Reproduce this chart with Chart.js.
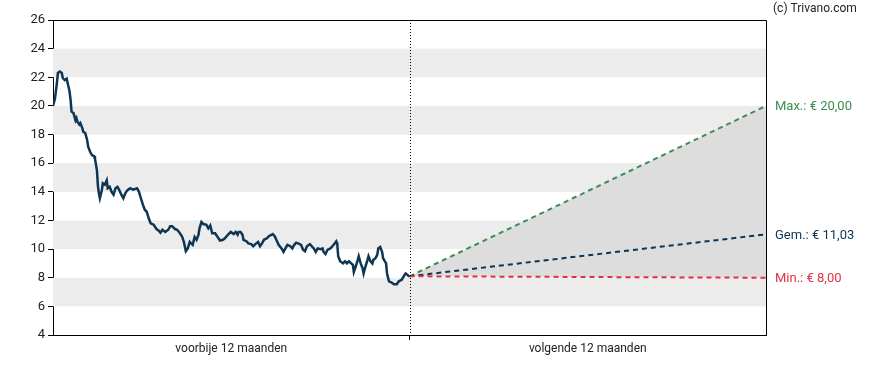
<!DOCTYPE html>
<html>
<head>
<meta charset="utf-8">
<script src="https://cdn.jsdelivr.net/npm/chart.js@4"></script>
<style>
  body { margin: 0; background: #fff; }
  #wrap { width: 888px; height: 370px; position: relative; }
</style>
</head>
<body>
<div id="wrap"><canvas id="chart"></canvas></div>
<script>
// past 12 months: day index and closing price
var pastDays = [0,2,4,5,7,9,10,12,14,15,17,18,19,21,23,24,25,27,28,30,31,33,35,36,38,40,42,43,45,46,47,48,50,51,53,55,56,58,60,62,64,66,68,70,72,74,76,79,82,86,88,90,92,94,96,98,100,103,106,108,110,112,115,118,120,122,125,127,129,132,134,136,138,140,143,145,147,149,150,152,154,157,159,161,163,166,168,171,174,176,179,182,185,187,189,190,192,194,195,198,200,203,205,208,210,212,214,216,219,221,225,227,229,231,234,236,238,240,243,245,247,249,251,254,256,258,260,263,267,269,271,274,276,277,279,281,284,286,288,290,291,292,294,297,299,301,303,307,308,310,312,313,315,317,318,320,322,323,325,327,328,330,332,333,335,337,338,341,342,344,347,349,352,354,357,359,361,363,364,365];
var pastPrices = [20.0,20.5,21.6,22.3,22.4,22.3,21.95,21.8,21.9,21.6,21.0,20.4,19.6,19.5,19.0,19.15,18.9,18.7,18.8,18.45,18.2,18.1,17.6,17.15,16.8,16.55,16.5,16.3,15.5,14.4,13.9,13.55,14.1,14.6,14.5,14.8,14.25,14.35,14.0,13.8,14.25,14.35,14.1,13.8,13.55,13.9,14.1,14.25,14.15,14.25,14.0,13.55,13.1,12.75,12.6,12.15,11.8,11.7,11.4,11.3,11.15,11.35,11.2,11.35,11.6,11.6,11.4,11.35,11.2,10.9,10.5,9.85,10.05,10.5,10.3,10.85,10.65,11.0,11.45,11.9,11.75,11.7,11.45,11.65,11.1,11.1,10.9,10.6,10.65,10.75,11.0,11.2,11.05,11.2,11.0,11.2,11.2,11.0,10.65,10.55,10.4,10.35,10.2,10.4,10.5,10.2,10.4,10.65,10.75,10.9,11.05,10.9,10.6,10.3,10.05,9.8,10.05,10.3,10.2,10.05,10.3,10.45,10.4,10.3,9.95,9.85,10.2,10.35,10.05,9.8,10.05,10.0,10.05,9.8,9.65,9.95,10.05,10.2,10.35,10.55,10.4,9.5,9.15,9.0,9.15,9.0,9.15,8.9,8.4,8.8,9.25,9.5,9.0,8.65,8.3,8.8,9.25,9.5,9.15,9.0,9.25,9.35,9.6,10.05,10.15,9.8,9.35,9.0,8.3,7.75,7.65,7.55,7.55,7.75,7.85,8.1,8.3,8.2,8.12,8.1];

// forecast for the next 12 months
var forecastDays = [365, 730];
var forecastStart = 8.1;
var forecastMax = 20.0;
var forecastAvg = 11.03;
var forecastMin = 8.0;
var forecastLabels = ['Max.: € 20,00', 'Gem.: € 11,03', 'Min.: € 8,00'];

var periodLabels = ['voorbije 12 maanden', 'volgende 12 maanden'];
var yTicksMin = 4, yTicksMax = 26, yStep = 2;
var bandStarts = [6, 10, 14, 18, 22];

var navy = '#0e3552';
var green = '#3b8d52';
var red = '#e32f43';

function pts(xs, ys) {
    return xs.map(function (x, i) { return { x: x, y: ys[i] }; });
}

var bandsPlugin = {
    id: 'bands',
    beforeDatasetsDraw: function (chart) {
        var ctx = chart.ctx, a = chart.chartArea, y = chart.scales.y;
        ctx.save();
        ctx.fillStyle = '#ececec';
        bandStarts.forEach(function (b) {
            var top = y.getPixelForValue(b + 2), bot = y.getPixelForValue(b);
            ctx.fillRect(a.left, top, a.right - a.left, bot - top);
        });
        ctx.restore();
    },
    afterDatasetsDraw: function (chart) {
        var ctx = chart.ctx, a = chart.chartArea, x = chart.scales.x, y = chart.scales.y;
        ctx.save();
        // frame
        ctx.strokeStyle = '#000';
        ctx.lineWidth = 1;
        ctx.beginPath();
        ctx.moveTo(a.left, a.top + 0.5);
        ctx.lineTo(a.right + 0.5, a.top + 0.5);
        ctx.lineTo(a.right + 0.5, a.bottom);
        ctx.stroke();
        // dotted divider between past and future
        var mx = Math.round(x.getPixelForValue(365)) + 0.5;
        ctx.setLineDash([1, 2]);
        ctx.beginPath();
        ctx.moveTo(mx, a.top);
        ctx.lineTo(mx, a.bottom);
        ctx.stroke();
        ctx.setLineDash([]);
        // forecast labels at right
        ctx.font = '13px Roboto';
        ctx.textBaseline = 'middle';
        ctx.textAlign = 'left';
        var vals = [forecastMax, forecastAvg, forecastMin];
        var cols = [green, navy, red];
        vals.forEach(function (v, i) {
            ctx.fillStyle = cols[i];
            ctx.fillText(forecastLabels[i], a.right + 9, y.getPixelForValue(v) + 1);
        });
        // copyright
        ctx.fillStyle = '#222';
        ctx.font = '12px Roboto';
        ctx.fillText('(c) Trivano.com', 773, 9);
        ctx.restore();
    }
};

var dash = [5, 4];

new Chart(document.getElementById('chart'), {
    type: 'line',
    data: {
        datasets: [
            {
                data: pts(pastDays, pastPrices),
                borderColor: navy,
                borderWidth: 2.5,
                pointRadius: 0,
                tension: 0,
                fill: false,
                order: 0
            },
            {
                data: pts(forecastDays, [forecastStart, forecastMax]),
                borderColor: green,
                borderWidth: 2,
                borderDash: dash,
                pointRadius: 0,
                fill: 3,
                backgroundColor: '#dddddd',
                order: 3
            },
            {
                data: pts(forecastDays, [forecastStart, forecastAvg]),
                borderColor: navy,
                borderWidth: 2,
                borderDash: dash,
                pointRadius: 0,
                fill: false,
                order: 2
            },
            {
                data: pts(forecastDays, [forecastStart, forecastMin]),
                borderColor: red,
                borderWidth: 2,
                borderDash: dash,
                pointRadius: 0,
                fill: false,
                order: 1
            }
        ]
    },
    options: {
        responsive: true,
        maintainAspectRatio: false,
        animation: false,
        layout: { padding: { top: 20, right: 122, left: 0, bottom: 0 } },
        plugins: {
            legend: { display: false },
            tooltip: { enabled: false }
        },
        scales: {
            x: {
                type: 'linear',
                min: 0,
                max: 730,
                afterBuildTicks: function (s) {
                    s.ticks = [{ value: 182.5 }, { value: 365 }, { value: 547.5 }];
                },
                afterFit: function (s) { s.height = 35; },
                ticks: {
                    autoSkip: false,
                    maxRotation: 0,
                    color: '#222',
                    font: { family: 'Roboto', size: 12 },
                    padding: 2,
                    callback: function (v) {
                        if (v === 182.5) return periodLabels[0];
                        if (v === 547.5) return periodLabels[1];
                        return '';
                    }
                },
                grid: {
                    drawOnChartArea: false,
                    tickLength: 5,
                    tickColor: function (c) { return c.tick && c.tick.value === 365 ? '#000' : 'rgba(0,0,0,0)'; }
                },
                border: { color: '#000', width: 1 }
            },
            y: {
                min: yTicksMin,
                max: yTicksMax,
                afterFit: function (s) { s.width = 53; },
                ticks: {
                    stepSize: yStep,
                    color: '#222',
                    font: { family: 'Roboto', size: 13 },
                    padding: 3
                },
                grid: {
                    drawOnChartArea: false,
                    tickLength: 5,
                    tickColor: '#000'
                },
                border: { color: '#000', width: 1 }
            }
        }
    },
    plugins: [bandsPlugin]
});
</script>
</body>
</html>
